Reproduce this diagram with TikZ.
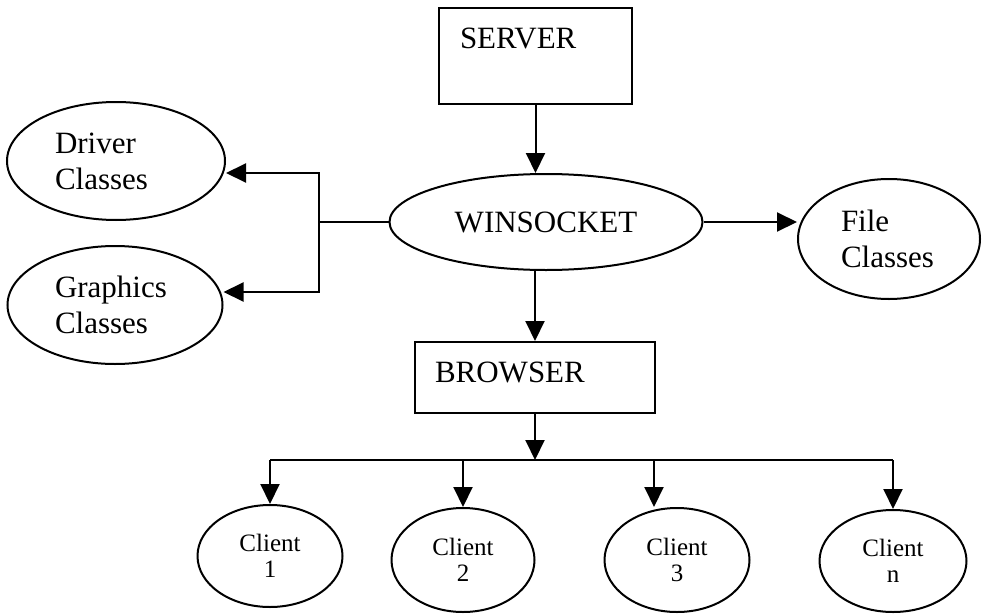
\documentclass[tikz,border=0pt]{standalone}
\usepackage{fontspec}
\setmainfont{Liberation Serif}
\usepackage{tikz}
\usetikzlibrary{shapes.geometric,arrows.meta}

\tikzset{
  oval/.style={shape=ellipse, draw=black, line width=2pt, inner sep=0pt, align=left},
  box/.style={shape=rectangle, draw=black, line width=2pt, inner ysep=0pt, align=left},
  arr/.style={line width=2pt, -{Triangle[length=20pt,width=19pt]}},
  big/.style={font=\fontsize{31}{36}\selectfont},
  small/.style={font=\fontsize{25}{26}\selectfont, align=center}
}

\begin{document}
\begin{tikzpicture}[x=1pt,y=-1pt]
\useasboundingbox (0,0) rectangle (982,613);

\node[box, big, inner xsep=21pt, text width=151pt, text height=40pt, text depth=56pt](srv) at (535.5,56) {SERVER};
\node[oval, big, minimum width=313pt, minimum height=96pt](ws) at (546,222) {WINSOCKET};
\node[oval, big, minimum width=218pt, minimum height=118pt, text width=122pt](drv) at (116,161) {Driver\\Classes};
\node[oval, big, minimum width=215pt, minimum height=118pt, text width=120pt](gfx) at (115,305) {Graphics\\Classes};
\node[oval, big, minimum width=182pt, minimum height=120pt, text width=96pt](file) at (889,239) {File\\Classes};
\node[box, big, inner xsep=20pt, text width=200pt, text height=40pt, text depth=31pt](brw) at (535,377.5) {BROWSER};

\node[oval, small, minimum width=145pt, minimum height=102pt](c1) at (270,556) {Client\\1};
\node[oval, small, minimum width=143pt, minimum height=104pt](c2) at (463,560) {Client\\2};
\node[oval, small, minimum width=145pt, minimum height=104pt](c3) at (677,560) {Client\\3};
\node[oval, small, minimum width=147pt, minimum height=102pt](cn) at (893,561) {Client\\n};

\coordinate (jn) at ([xshift=-70pt]ws.west);
\coordinate (bus) at (535,460);

\path[arr] (srv.south) edge (srv.south |- ws.north);
\path[arr] (ws.south -| brw.north) edge (brw.north);
\path[arr] (ws.east) edge (ws.east -| file.west);

\draw[line width=2pt] (ws.west) -- (jn);
\draw[arr] (jn) |- ([yshift=-12pt]drv.east);
\draw[arr] (jn) |- ([yshift=13pt]gfx.east);

\path[arr] (brw.south) edge (bus);
\draw[line width=2pt] (c1.north |- bus) -- (cn.north |- bus);
\path[arr] (c1.north |- bus) edge (c1.north);
\path[arr] (c2.north |- bus) edge (c2.north);
\path[arr] ([xshift=-23pt]c3.north |- bus) edge ([xshift=-23pt]c3.north);
\path[arr] (cn.north |- bus) edge (cn.north);
\end{tikzpicture}
\end{document}
